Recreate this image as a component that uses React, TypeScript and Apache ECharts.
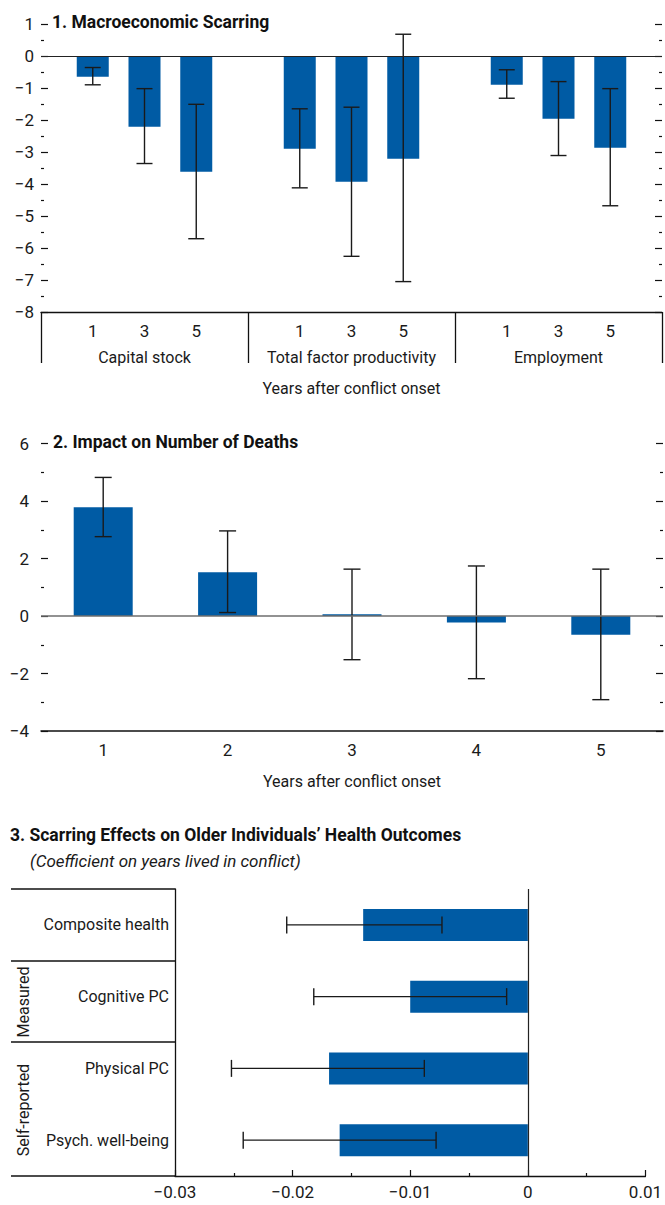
import React, { useEffect, useRef } from "react";
import * as echarts from "echarts";

// ---------- Data ----------
const macroGroups = ["Capital stock", "Total factor productivity", "Employment"];
const macroYears = ["1", "3", "5"];
const capVal = [-0.65, -2.21, -3.62];
const capLo = [-0.9, -3.36, -5.71];
const capHi = [-0.36, -1.02, -1.51];
const tfpVal = [-2.9, -3.93, -3.21];
const tfpLo = [-4.12, -6.26, -7.05];
const tfpHi = [-1.65, -1.6, 0.68];
const empVal = [-0.9, -1.96, -2.87];
const empLo = [-1.32, -3.11, -4.68];
const empHi = [-0.43, -0.8, -1.02];

const deathYears = ["1", "2", "3", "4", "5"];
const deathVal = [3.78, 1.52, 0.06, -0.23, -0.65];
const deathLo = [2.76, 0.12, -1.52, -2.18, -2.91];
const deathHi = [4.82, 2.96, 1.63, 1.74, 1.63];

const healthCats = ["Composite health", "Cognitive PC", "Physical PC", "Psych. well-being"];
const healthVal = [-0.014, -0.01, -0.0169, -0.016];
const healthLo = [-0.0205, -0.0182, -0.0252, -0.0242];
const healthHi = [-0.0073, -0.0018, -0.0088, -0.0078];
const healthGroups = ["Measured", "Self-reported"];

const titles = [
  "1. Macroeconomic Scarring",
  "2. Impact on Number of Deaths",
  "3. Scarring Effects on Older Individuals\u2019 Health Outcomes",
];
const subtitle3 = "(Coefficient on years lived in conflict)";
const xName = "Years after conflict onset";

// ---------- Styles ----------
const FONT = "Roboto, 'Liberation Sans', sans-serif";
const TXT = "#1a1a1a";
const BLUE = "#005BA4";
const ERR = "#1a1a1a";
const FS = 16;

const fmtNum = (v: number) => {
  const r = Math.round(v * 1000) / 1000;
  if (r === 0) return "0";
  return r < 0 ? "\u2212" + String(Math.abs(r)) : String(r);
};

const vErr = (cap: number) => (params: any, api: any) => {
  const x = api.value(0);
  const lo = api.coord([x, api.value(1)]);
  const hi = api.coord([x, api.value(2)]);
  const h = cap / 2;
  const style = { stroke: ERR, lineWidth: 1.4 };
  return {
    type: "group",
    children: [
      { type: "line", shape: { x1: lo[0], y1: lo[1], x2: hi[0], y2: hi[1] }, style },
      { type: "line", shape: { x1: lo[0] - h, y1: lo[1], x2: lo[0] + h, y2: lo[1] }, style },
      { type: "line", shape: { x1: hi[0] - h, y1: hi[1], x2: hi[0] + h, y2: hi[1] }, style },
    ],
  };
};

const hErr = (cap: number) => (params: any, api: any) => {
  const c = api.value(2);
  const lo = api.coord([api.value(0), c]);
  const hi = api.coord([api.value(1), c]);
  const h = cap / 2;
  const style = { stroke: ERR, lineWidth: 1.4 };
  return {
    type: "group",
    children: [
      { type: "line", shape: { x1: lo[0], y1: lo[1], x2: hi[0], y2: hi[1] }, style },
      { type: "line", shape: { x1: lo[0], y1: lo[1] - h, x2: lo[0], y2: lo[1] + h }, style },
      { type: "line", shape: { x1: hi[0], y1: hi[1] - h, x2: hi[0], y2: hi[1] + h }, style },
    ],
  };
};

const label = { fontFamily: FONT, fontSize: FS, color: TXT };
const tickStyle = { color: "#111", width: 1.2 };

const yLeft = (min: number, max: number, interval: number, margin: number) => ({
  type: "value",
  min,
  max,
  interval,
  position: "left",
  axisLine: { show: false },
  axisTick: { show: true, inside: true, length: 7, lineStyle: tickStyle },
  minorTick: { show: true, splitNumber: 2, length: 3, lineStyle: tickStyle },
  splitLine: { show: false },
  minorSplitLine: { show: false },
  axisLabel: { ...label, fontSize: 17, margin, formatter: (v: number) => fmtNum(v) },
});
const yRight = (min: number, max: number, interval: number) => ({
  type: "value",
  min,
  max,
  interval,
  position: "right",
  axisLine: { show: false },
  axisTick: { show: true, inside: true, length: 7, lineStyle: tickStyle },
  minorTick: { show: true, splitNumber: 2, length: 3, lineStyle: tickStyle },
  splitLine: { show: false },
  minorSplitLine: { show: false },
  axisLabel: { show: false },
});

const titleText = (text: string, left: number, top: number) => ({
  type: "text",
  left,
  top,
  style: { text, fontFamily: FONT, fontSize: 17.5, fontWeight: "bold", fill: "#111" },
});

function panel1Option() {
  const groupsVals = [capVal, tfpVal, empVal];
  const groupsLo = [capLo, tfpLo, empLo];
  const groupsHi = [capHi, tfpHi, empHi];
  const cats: string[] = [""];
  const bars: any[] = ["-"];
  const errs: number[][] = [];
  groupsVals.forEach((vals, g) => {
    vals.forEach((v, i) => {
      errs.push([cats.length, groupsLo[g][i], groupsHi[g][i]]);
      cats.push(macroYears[i]);
      bars.push(v);
    });
    cats.push("");
    bars.push("-");
  });
  return {
    animation: false,
    textStyle: { fontFamily: FONT, color: TXT },
    grid: { left: 41, top: 24, width: 622, height: 288, containLabel: false },
    xAxis: [
      {
        type: "category",
        data: cats,
        boundaryGap: false,
        position: "bottom",
        axisLine: { show: true, onZero: false, lineStyle: { color: "#111", width: 1.3 } },
        axisTick: {
          show: true,
          inside: false,
          length: 51,
          interval: (idx: number) => idx % 4 === 0,
          lineStyle: { color: "#111", width: 1.3 },
        },
        axisLabel: { ...label, fontSize: 17, margin: 10, interval: 0 },
      },
      {
        type: "category",
        data: macroGroups,
        position: "bottom",
        axisLine: { show: false, onZero: false },
        axisTick: { show: false },
        axisLabel: { ...label, margin: 37, interval: 0 },
        name: xName,
        nameLocation: "middle",
        nameGap: 68,
        nameTextStyle: { ...label },
      },
    ],
    yAxis: [yLeft(-8, 1, 1, 7), yRight(-8, 1, 1)],
    series: [
      {
        type: "bar",
        data: bars,
        barWidth: 32,
        itemStyle: { color: BLUE },
        z: 2,
        markLine: {
          silent: true,
          symbol: ["none", "none"],
          label: { show: false },
          lineStyle: { color: "#222", width: 1.2, type: "solid" },
          data: [{ yAxis: 0 }],
        },
      },
      {
        type: "custom",
        data: errs,
        encode: { x: 0, y: [1, 2] },
        renderItem: vErr(16),
        z: 4,
        silent: true,
      },
    ],
    graphic: [titleText(titles[0], 52, 13)],
  };
}

function panel2Option() {
  const errs = deathVal.map((_, i) => [i, deathLo[i], deathHi[i]]);
  return {
    animation: false,
    textStyle: { fontFamily: FONT, color: TXT },
    grid: { left: 41, top: 33.5, width: 622, height: 287.5, containLabel: false },
    xAxis: {
      type: "category",
      data: deathYears,
      position: "bottom",
      axisLine: { show: true, onZero: false, lineStyle: { color: "#111", width: 1.5 } },
      axisTick: { show: false },
      axisLabel: { ...label, fontSize: 17, margin: 10 },
      name: xName,
      nameLocation: "middle",
      nameGap: 42,
      nameTextStyle: { ...label },
    },
    yAxis: [yLeft(-4, 6, 2, 12), yRight(-4, 6, 2)],
    series: [
      {
        type: "bar",
        data: deathVal,
        barWidth: 59,
        itemStyle: { color: BLUE },
        z: 2,
      },
      {
        type: "custom",
        data: errs,
        encode: { x: 0, y: [1, 2] },
        renderItem: vErr(17),
        z: 4,
        silent: true,
      },
      {
        type: "line",
        data: [],
        z: 3,
        markLine: {
          silent: true,
          symbol: ["none", "none"],
          label: { show: false },
          lineStyle: { color: "#6e6e6e", width: 1.5, type: "solid" },
          data: [{ yAxis: 0 }],
        },
      },
    ],
    graphic: [titleText(titles[1], 53, 23)],
  };
}

function panel3Option() {
  const OY = 815;
  const errs = healthVal.map((_, i) => [healthLo[i], healthHi[i], i]);
  const lineStyle = { stroke: "#111", lineWidth: 1.3 };
  const hl = (y: number) => ({ type: "line", shape: { x1: 11, y1: y - OY, x2: 175, y2: y - OY }, style: lineStyle });
  const rot = (text: string, y: number) => ({
    type: "text",
    x: 23,
    y: y - OY,
    rotation: Math.PI / 2,
    style: { text, fontFamily: FONT, fontSize: 16, fill: TXT, align: "center", verticalAlign: "middle" },
  });
  return {
    animation: false,
    textStyle: { fontFamily: FONT, color: TXT },
    grid: { left: 175, top: 889 - OY, width: 472, height: 287, containLabel: false },
    xAxis: {
      type: "value",
      min: -0.03,
      max: 0.01,
      interval: 0.01,
      position: "bottom",
      axisLine: { show: true, onZero: false, lineStyle: { color: "#111", width: 1.3 } },
      axisTick: { show: true, inside: true, length: 6, lineStyle: tickStyle },
      minorTick: { show: true, splitNumber: 2, length: 3, lineStyle: tickStyle },
      splitLine: { show: false },
      minorSplitLine: { show: false },
      axisLabel: { ...label, fontSize: 17, margin: 7, formatter: (v: number) => fmtNum(v) },
    },
    yAxis: {
      type: "category",
      data: healthCats,
      inverse: true,
      axisLine: { show: true, onZero: false, lineStyle: { color: "#111", width: 1.3 } },
      axisTick: { show: false },
      axisLabel: { ...label, margin: 6, interval: 0 },
    },
    series: [
      {
        type: "bar",
        data: healthVal,
        barWidth: 32,
        itemStyle: { color: BLUE },
        z: 2,
        markLine: {
          silent: true,
          symbol: ["none", "none"],
          label: { show: false },
          lineStyle: { color: "#222", width: 1.2, type: "solid" },
          data: [{ xAxis: 0 }],
        },
      },
      {
        type: "custom",
        data: errs,
        encode: { x: [0, 1], y: 2 },
        renderItem: hErr(17),
        z: 4,
        silent: true,
      },
    ],
    graphic: [
      titleText(titles[2], 10, 826 - OY),
      {
        type: "text",
        left: 30,
        top: 852 - OY,
        style: { text: subtitle3, fontFamily: FONT, fontSize: 17, fontStyle: "italic", fill: TXT },
      },
      hl(889),
      hl(961),
      hl(1042),
      hl(1176),
      rot(healthGroups[0], 1002),
      rot(healthGroups[1], 1110),
    ],
  };
}

function Panel({ top, height, build }: { top: number; height: number; build: () => any }) {
  const ref = useRef<HTMLDivElement>(null);
  useEffect(() => {
    if (!ref.current) return;
    const chart = echarts.init(ref.current, undefined, { renderer: "svg" });
    try {
      chart.setOption(build());
    } catch (e) {
      console.error(e);
    }
    return () => chart.dispose();
  }, []);
  return <div ref={ref} style={{ position: "absolute", left: 0, top, width: 665, height }} />;
}

export default function App() {
  return (
    <div style={{ position: "absolute", left: 0, top: 0, width: 665, height: 1205, background: "#fff" }}>
      <Panel top={0} height={410} build={panel1Option} />
      <Panel top={410} height={405} build={panel2Option} />
      <Panel top={815} height={390} build={panel3Option} />
    </div>
  );
}
